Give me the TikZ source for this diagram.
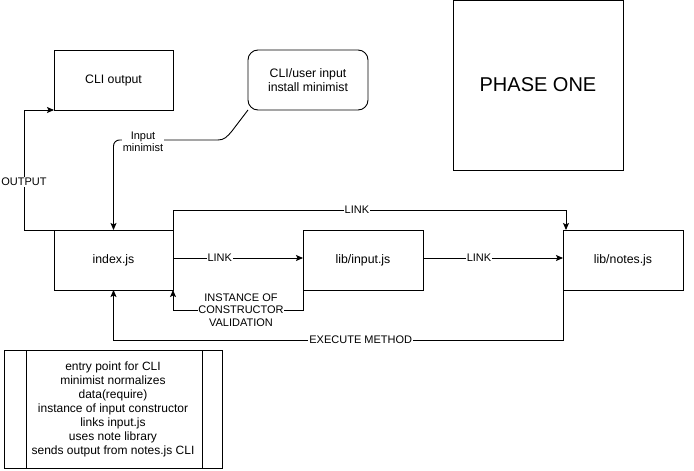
\documentclass[tikz,border=0pt]{standalone}
\usepackage{fontspec}
\setmainfont{Liberation Sans}
\usetikzlibrary{arrows.meta}
\begin{document}
\begin{tikzpicture}[x=1pt,y=-1pt,
  box/.style={draw,line width=0.9pt,minimum width=119pt,minimum height=60pt,inner sep=0pt,outer sep=0pt,font=\fontsize{12.3}{14.3}\selectfont,align=center},
  conn/.style={line width=0.9pt,-{Stealth[length=7pt,width=6pt,inset=1.5pt]}},
  plain/.style={line width=0.9pt},
  lbl/.style={fill=white,inner sep=1pt,font=\fontsize{11}{12.5}\selectfont,align=center}]
\useasboundingbox (0,0) rectangle (694,471);
\node[box] (cli) at (113.5,80) {CLI output};
\node[box,rounded corners=10pt,minimum width=120pt] (user) at (308,80) {CLI/user input\\install minimist};
\node[box,minimum width=170pt,minimum height=170pt,font=\fontsize{20}{24}\selectfont] (phase) at (538,85) {PHASE ONE};
\node[box] (idx) at (113.5,260) {index.js};
\node[box,minimum width=120pt] (inp) at (363,260) {lib/input.js};
\node[box,minimum width=120pt] (notes) at (623,260) {lib/notes.js};
\node[draw,line width=0.9pt,minimum width=218pt,minimum height=118pt,inner sep=0pt,outer sep=0pt,font=\fontsize{12}{14}\selectfont,align=center] (desc) at (113,409) {entry point for CLI\\minimist normalizes\\data(require)\\instance of input constructor\\links input.js\\uses note library\\sends output from notes.js CLI};
\draw[plain] ([xshift=22pt]desc.north west) -- ([xshift=22pt]desc.south west);
\draw[plain] ([xshift=-20pt]desc.north east) -- ([xshift=-20pt]desc.south east);
% OUTPUT
\draw[conn] (idx.north west) -- ++(-30,0) |- (cli.south west) node[lbl,pos=0.2] {OUTPUT};
% Input minimist
\coordinate (bend) at (218,140);
\draw[plain] (user.south west) -- (232,131) .. controls (227,137) and (224,140) .. (bend);
\draw[conn,rounded corners=6pt] (bend) -| (idx.north);
\node[lbl] at (143,142) {Input\\minimist};
% LINK top
\draw[conn] (idx.north east) -- ++(0,-20) -| ([xshift=3pt]notes.north west) node[lbl,pos=0.234] {LINK};
% LINK middle
\draw[conn] ([yshift=2pt]idx.east) -- ([yshift=2pt]inp.west) node[lbl,pos=0.36] {LINK};
\draw[conn] ([yshift=2pt]inp.east) -- ([yshift=2pt]notes.west) node[lbl,pos=0.4] {LINK};
% instance
\draw[conn] (inp.south west) -- ++(0,20) -| (idx.south east);
\node[lbl,inner sep=0.5pt] at (241,310) {INSTANCE OF\\CONSTRUCTOR\\VALIDATION};
% execute
\draw[conn] (notes.south west) -- ++(0,50) -| (idx.south) node[lbl,pos=0.225] {EXECUTE METHOD};
\end{tikzpicture}
\end{document}
